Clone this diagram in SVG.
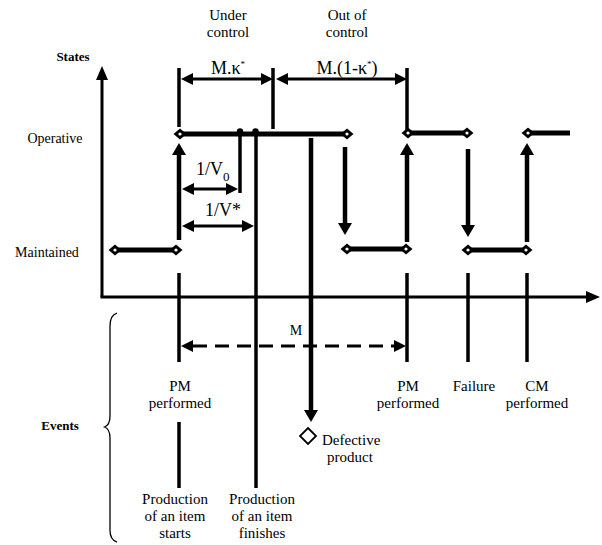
<svg xmlns="http://www.w3.org/2000/svg" xmlns:xlink="http://www.w3.org/1999/xlink" width="602" height="545" viewBox="0 0 602 545" font-family="'Liberation Serif', 'DejaVu Serif', 'Times New Roman', serif">
  <style>
    text { font-family: "Liberation Serif", "DejaVu Serif", "Times New Roman", serif; fill: #000; }
    .lbl { font-size: 15px; text-anchor: middle; }
    .bold { font-size: 13px; font-weight: bold; text-anchor: middle; }
    .dim { font-size: 18px; text-anchor: middle; }
    .left { text-anchor: start; }
    .axis { stroke: #000; stroke-width: 3; fill: none; }
    .ev { stroke: #000; stroke-width: 3.5; fill: none; }
    .tr { stroke: #000; stroke-width: 4.5; fill: none; }
    .st { stroke: #000; stroke-width: 5; fill: none; }
    .dm { stroke: #000; stroke-width: 3; fill: none; }
  </style>
  <defs>
    <marker id="axhead" markerUnits="userSpaceOnUse" markerWidth="14" markerHeight="12" refX="0" refY="6" orient="auto">
      <path d="M0,0 L14,6 L0,12 z" fill="#000"/>
    </marker>
    <marker id="head" markerUnits="userSpaceOnUse" markerWidth="12" markerHeight="14" refX="0" refY="7" orient="auto-start-reverse">
      <path d="M0,0 L12,7 L0,14 z" fill="#000"/>
    </marker>
    <marker id="dhead" markerUnits="userSpaceOnUse" markerWidth="12" markerHeight="12" refX="0" refY="6" orient="auto-start-reverse">
      <path d="M0,0 L12,6 L0,12 z" fill="#000"/>
    </marker>
    <g id="dia">
      <path d="M-6.5,0 L0,-5.5 L6.5,0 L0,5.5 z" fill="#000"/>
      <circle cx="0" cy="0" r="1.6" fill="#fff"/>
    </g>
  </defs>

  <!-- axes and side labels -->
  <g id="axes">
    <line class="axis" x1="102" y1="297" x2="102" y2="80" marker-end="url(#axhead)"/>
    <line class="axis" x1="100.5" y1="297" x2="586" y2="297" marker-end="url(#axhead)"/>
    <text class="bold" x="73" y="61">States</text>
    <text class="lbl" x="55" y="143" style="font-size:14px">Operative</text>
    <text class="lbl" x="47" y="257" style="font-size:14px">Maintained</text>
    <text class="bold" x="60" y="430">Events</text>
    <path d="M117,313 Q110,315 110,326 L110,416 Q110,425 104.5,427 Q110,429 110,438 L110,530 Q110,540 117,542" fill="none" stroke="#000" stroke-width="1.3"/>
  </g>

  <!-- state levels -->
  <g id="maintained-1">
    <line class="st" x1="115" y1="250" x2="176" y2="250"/>
    <use xlink:href="#dia" x="115" y="250"/>
    <use xlink:href="#dia" x="176" y="250"/>
  </g>
  <g id="operative-1">
    <line class="st" x1="180" y1="134" x2="347" y2="134"/>
    <use xlink:href="#dia" x="180" y="134"/>
    <use xlink:href="#dia" x="347" y="134"/>
    <circle cx="240" cy="131.5" r="3.2" fill="#000"/>
    <circle cx="255.5" cy="131.5" r="3.2" fill="#000"/>
  </g>
  <g id="maintained-2">
    <line class="st" x1="347" y1="249" x2="406" y2="249"/>
    <use xlink:href="#dia" x="347" y="249"/>
    <use xlink:href="#dia" x="406" y="249"/>
  </g>
  <g id="operative-2">
    <line class="st" x1="408" y1="133" x2="467" y2="133"/>
    <use xlink:href="#dia" x="408" y="133"/>
    <use xlink:href="#dia" x="467" y="133"/>
  </g>
  <g id="maintained-3">
    <line class="st" x1="468" y1="250" x2="526" y2="250"/>
    <use xlink:href="#dia" x="468" y="250"/>
    <use xlink:href="#dia" x="526" y="250"/>
  </g>
  <g id="operative-3">
    <line class="st" x1="528" y1="133" x2="570" y2="133"/>
    <use xlink:href="#dia" x="528" y="133"/>
  </g>

  <!-- event labels -->
  <g id="ev-pm-1">
    <text class="lbl" x="180" y="391">PM</text>
    <text class="lbl" x="180" y="408">performed</text>
  </g>
  <g id="ev-prod-start">
    <text class="lbl" x="175" y="504">Production</text>
    <text class="lbl" x="175" y="521">of an item</text>
    <text class="lbl" x="175" y="538">starts</text>
  </g>
  <g id="ev-prod-finish">
    <text class="lbl" x="262" y="504">Production</text>
    <text class="lbl" x="262" y="521">of an item</text>
    <text class="lbl" x="262" y="538">finishes</text>
  </g>
  <g id="ev-defective">
    <path d="M308,428 L316,436 L308,444 L300,436 z" fill="#fff" stroke="#000" stroke-width="1.8"/>
    <text class="lbl left" x="322" y="445">Defective</text>
    <text class="lbl" x="350" y="462">product</text>
  </g>
  <g id="ev-pm-2">
    <text class="lbl" x="408" y="391">PM</text>
    <text class="lbl" x="408" y="408">performed</text>
  </g>
  <g id="ev-failure">
    <text class="lbl" x="474" y="391">Failure</text>
  </g>
  <g id="ev-cm">
    <text class="lbl" x="537" y="391">CM</text>
    <text class="lbl" x="537" y="408">performed</text>
  </g>

  <!-- phase and duration labels -->
  <g id="phases">
    <text class="lbl" x="228" y="20">Under</text>
    <text class="lbl" x="228" y="37">control</text>
    <text class="lbl" x="347" y="20">Out of</text>
    <text class="lbl" x="347" y="37">control</text>
    <text class="dim" x="228" y="74">M.κ<tspan dy="-7" font-size="9">*</tspan></text>
    <text class="dim" x="347" y="74">M.(1-κ<tspan dy="-7" font-size="9">*</tspan><tspan dy="7">)</tspan></text>
    <text class="dim left" x="196" y="175">1/V<tspan dy="6" font-size="13">0</tspan></text>
    <text class="dim left" x="205" y="216">1/V*</text>
    <text class="lbl" x="296" y="335" style="font-size:14px">M</text>
  </g>

  <!-- connectors -->
  <g id="connectors">
    <!-- event lines -->
    <line class="ev" x1="179" y1="68" x2="179" y2="127"/>
    <line class="ev" x1="273" y1="68" x2="273" y2="129"/>
    <line class="ev" x1="407" y1="68" x2="407" y2="131"/>
    <line class="ev" x1="179" y1="273" x2="179" y2="362"/>
    <line class="ev" x1="179" y1="422" x2="179" y2="488"/>
    <line class="ev" x1="240" y1="134" x2="240" y2="193"/>
    <line class="ev" x1="256" y1="134" x2="256" y2="488"/>
    <line class="ev" x1="407" y1="273" x2="407" y2="362"/>
    <line class="ev" x1="468" y1="273" x2="468" y2="362"/>
    <line class="ev" x1="527" y1="273" x2="527" y2="362"/>
    <line class="tr" x1="311" y1="138" x2="311" y2="410" marker-end="url(#head)"/>

    <!-- state transitions -->
    <line class="tr" x1="179" y1="240" x2="179" y2="155" marker-end="url(#head)"/>
    <line class="tr" x1="345" y1="147" x2="345" y2="223" marker-end="url(#head)"/>
    <line class="tr" x1="407" y1="242" x2="407" y2="155" marker-end="url(#head)"/>
    <line class="tr" x1="468" y1="149" x2="468" y2="225" marker-end="url(#head)"/>
    <line class="tr" x1="527" y1="242" x2="527" y2="155" marker-end="url(#head)"/>

    <!-- durations -->
    <line class="dm" x1="193" y1="79" x2="261" y2="79" marker-start="url(#dhead)" marker-end="url(#dhead)"/>
    <line class="dm" x1="288" y1="79" x2="395" y2="79" marker-start="url(#dhead)" marker-end="url(#dhead)"/>
    <line class="dm" x1="194" y1="189" x2="226" y2="189" marker-start="url(#dhead)" marker-end="url(#dhead)"/>
    <line class="dm" x1="194" y1="226" x2="242" y2="226" marker-start="url(#dhead)" marker-end="url(#dhead)"/>
    <line class="dm" x1="193" y1="346" x2="394" y2="346" stroke-width="4" stroke-dasharray="14 8" marker-start="url(#dhead)" marker-end="url(#dhead)"/>
  </g>
</svg>
